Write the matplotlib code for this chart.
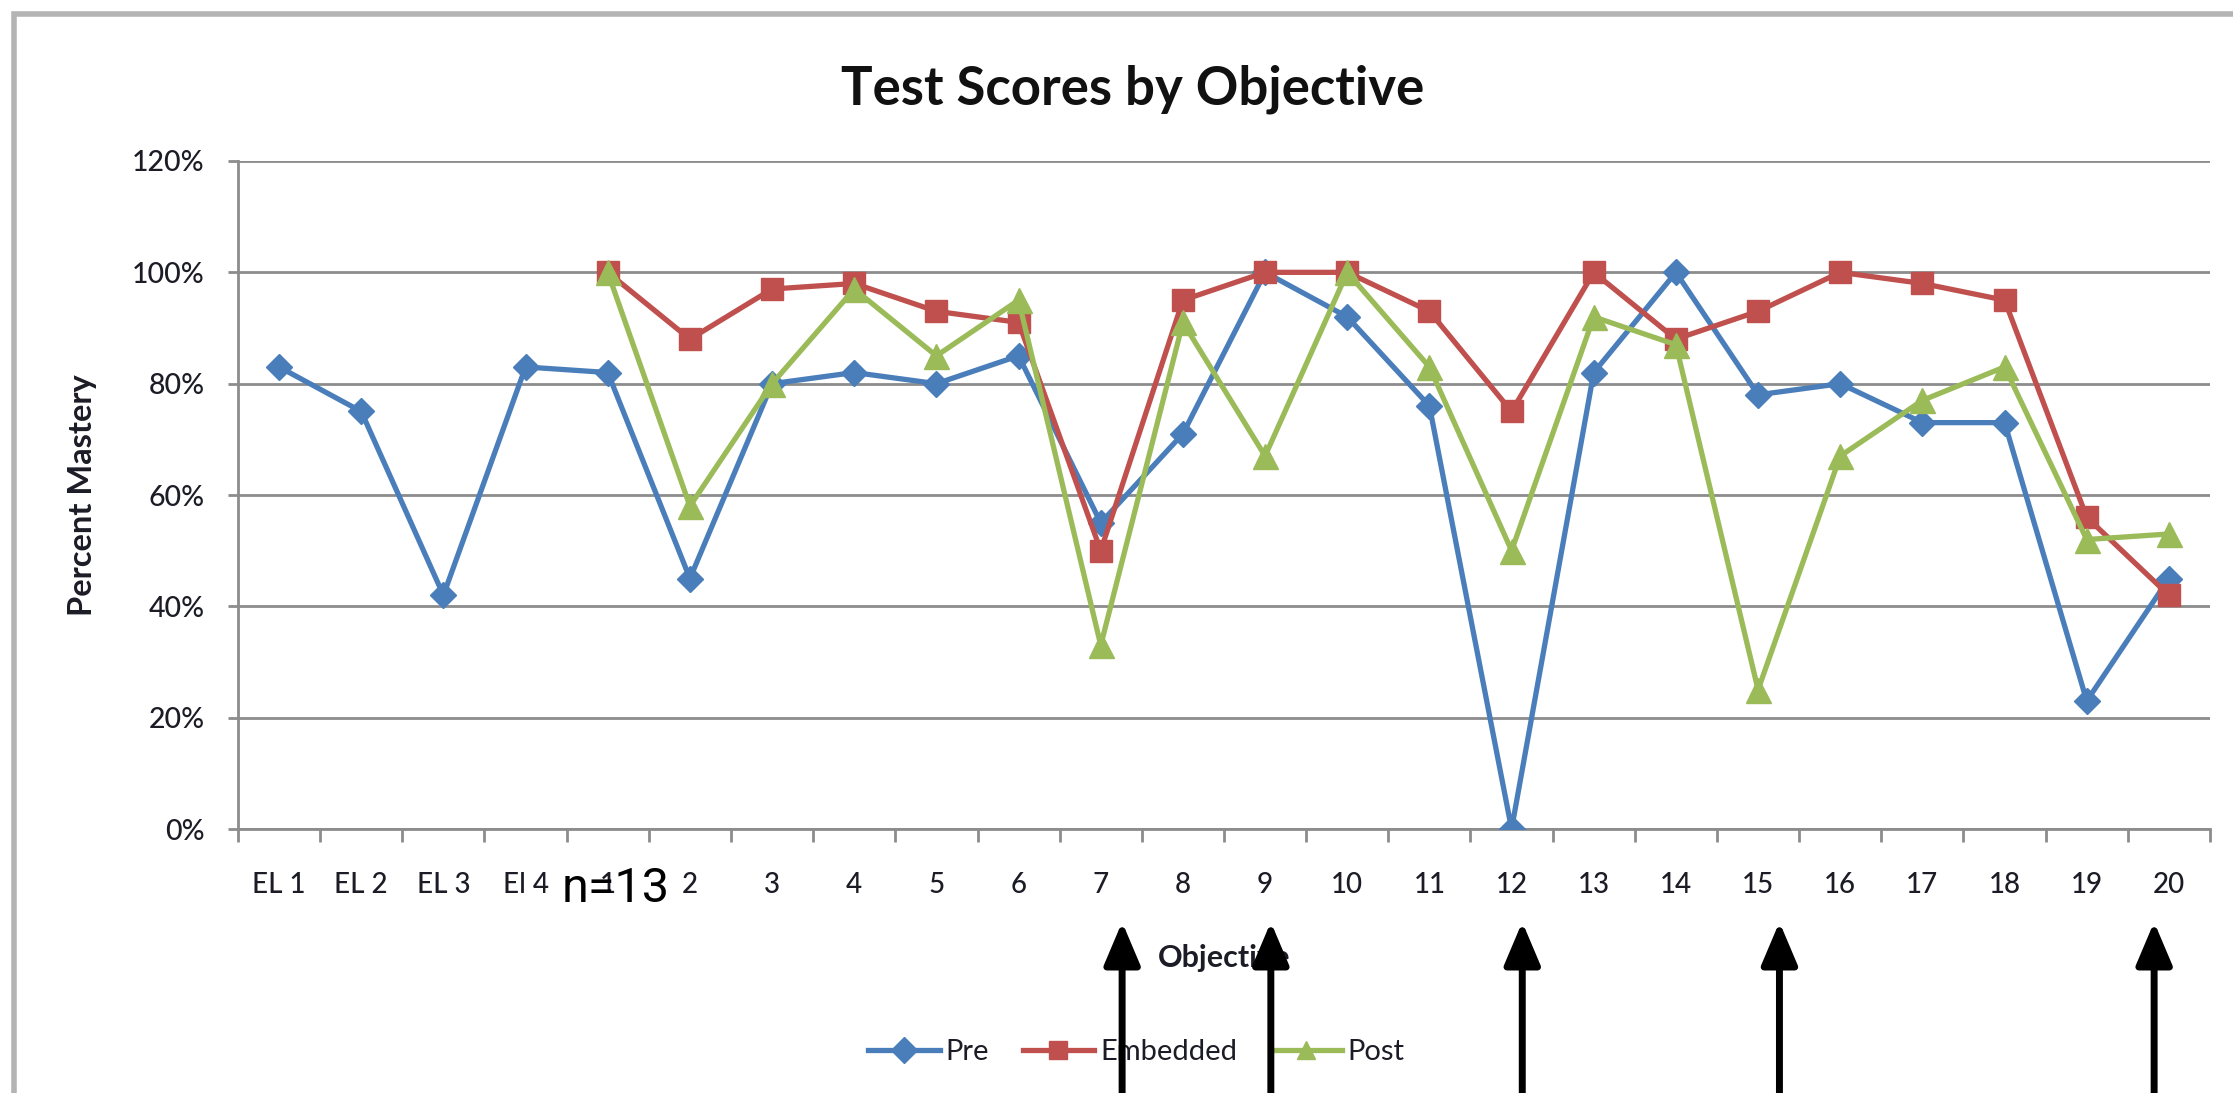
import numpy as np
import matplotlib
matplotlib.use("Agg")
import matplotlib.pyplot as plt
from matplotlib.patches import FancyArrowPatch, ArrowStyle, Rectangle
from matplotlib.transforms import blended_transform_factory
from matplotlib.ticker import FixedLocator, PercentFormatter

# ---------------- data ----------------
categories = ["EL 1", "EL 2", "EL 3", "El 4"] + [str(i) for i in range(1, 21)]
objectives = [str(i) for i in range(1, 21)]

pre = [0.83, 0.75, 0.42, 0.83, 0.82, 0.45, 0.80, 0.82, 0.80, 0.85, 0.55, 0.71,
       1.00, 0.92, 0.76, 0.00, 0.82, 1.00, 0.78, 0.80, 0.73, 0.73, 0.23, 0.45]
embedded = [1.00, 0.88, 0.97, 0.98, 0.93, 0.91, 0.50, 0.95, 1.00, 1.00,
            0.93, 0.75, 1.00, 0.88, 0.93, 1.00, 0.98, 0.95, 0.56, 0.42]
post = [1.00, 0.58, 0.80, 0.97, 0.85, 0.95, 0.33, 0.91, 0.67, 1.00,
        0.83, 0.50, 0.92, 0.87, 0.25, 0.67, 0.77, 0.83, 0.52, 0.53]

y_ticks = [0, 0.2, 0.4, 0.6, 0.8, 1.0, 1.2]
highlighted = ["7", "9", "12", "15", "20"]
arrow_offsets = [0.26, 0.07, 0.13, 0.26, -0.18]

title = "Test Scores by Objective"
x_label = "Objective"
y_label = "Percent Mastery"
note = "n=13"

# ---------------- style ----------------
FONT = ["Lato", "DejaVu Sans"]
plt.rcParams["font.family"] = FONT
TXT = "#1c1c26"
GRID = "#8c8c8c"
C_PRE, C_EMB, C_POST = "#4a7ebb", "#c0504d", "#9bbb59"

fig = plt.figure(figsize=(22.33, 10.93), dpi=100)
fig.patch.set_facecolor("white")
ax = fig.add_axes([238 / 2233, 1 - 829 / 1093, (2210 - 238) / 2233, (829 - 161) / 1093])

x_all = np.arange(len(categories))
x_obj = np.array([categories.index(o) for o in objectives])

ax.plot(x_all, pre, color=C_PRE, lw=3.8, marker="D", ms=13, mfc=C_PRE, mec=C_PRE,
        label="Pre", zorder=3)
ax.plot(x_obj, embedded, color=C_EMB, lw=3.8, marker="s", ms=16, mfc=C_EMB, mec=C_EMB,
        label="Embedded", zorder=4)
ax.plot(x_obj, post, color=C_POST, lw=3.8, marker="^", ms=18, mfc=C_POST, mec=C_POST,
        label="Post", zorder=5)

ax.set_xlim(-0.5, len(categories) - 0.5)
ax.set_ylim(0, 1.2)
ax.set_yticks(y_ticks)
ax.yaxis.set_major_formatter(PercentFormatter(1.0, decimals=0))
ax.set_xticks(x_all)
ax.set_xticklabels(categories)
ax.xaxis.set_minor_locator(FixedLocator(np.arange(-0.5, len(categories), 1.0)))

ax.grid(axis="y", color=GRID, lw=2.0, zorder=1)
ax.set_axisbelow(True)
for s in ["top", "right"]:
    ax.spines[s].set_visible(False)
for s in ["left", "bottom"]:
    ax.spines[s].set_color(GRID)
    ax.spines[s].set_linewidth(2.0)

ax.tick_params(axis="x", which="major", length=0, pad=31, labelsize=20, labelcolor=TXT)
ax.tick_params(axis="x", which="minor", length=9, width=2.0, color=GRID, direction="out")
ax.tick_params(axis="y", which="major", length=7, width=2.0, color=GRID, pad=17,
               labelsize=20.5, labelcolor=TXT)
for lbl in ax.get_xticklabels() + ax.get_yticklabels():
    lbl.set_fontweight("medium")

ax.set_xlabel(x_label, fontsize=22, fontweight="bold", color=TXT)
ax.xaxis.set_label_coords(0.5, -0.172)
ax.set_ylabel(y_label, fontsize=23.5, fontweight="bold", color=TXT)
ax.yaxis.set_label_coords(-0.0715, 0.5)

fig.text(0.507, 0.918, title, fontsize=38, fontweight="bold", color="#111111",
         ha="center", va="center")

leg = fig.legend(loc="center", bbox_to_anchor=(0.509, 0.0375), ncol=3, frameon=False,
                 fontsize=21, handlelength=2.45, handletextpad=0.2, columnspacing=1.15,
                 labelcolor=TXT)
for h in leg.legend_handles:
    h.set_markersize(13)

# outer chart frame (top and left edges visible)
fig.add_artist(Rectangle((14 / 2233, -0.05), 1.2, 1 - 14 / 1093 + 0.05,
                         transform=fig.transFigure, fill=False,
                         edgecolor="#b4b4b4", lw=4, zorder=0))

# "n=13" note
trans_note = blended_transform_factory(ax.transData, fig.transFigure)
fig.text(categories.index("1") + 0.1, 1 - 889 / 1093, note, transform=trans_note,
         fontsize=35, family=["Roboto", "DejaVu Sans"], color="black",
         ha="center", va="center", zorder=10)

# highlight arrows
trans_arr = blended_transform_factory(ax.transData, fig.transFigure)
style = ArrowStyle("-|>", head_length=26, head_width=11)
for lab, off in zip(highlighted, arrow_offsets):
    xv = categories.index(lab) + off
    arr = FancyArrowPatch((xv, -0.01), (xv, 1 - 922 / 1093), transform=trans_arr,
                          arrowstyle=style, mutation_scale=1, lw=5, color="black",
                          shrinkA=0, shrinkB=0, zorder=20, clip_on=False)
    fig.add_artist(arr)

fig.savefig("out.png", dpi=100, facecolor="white")
